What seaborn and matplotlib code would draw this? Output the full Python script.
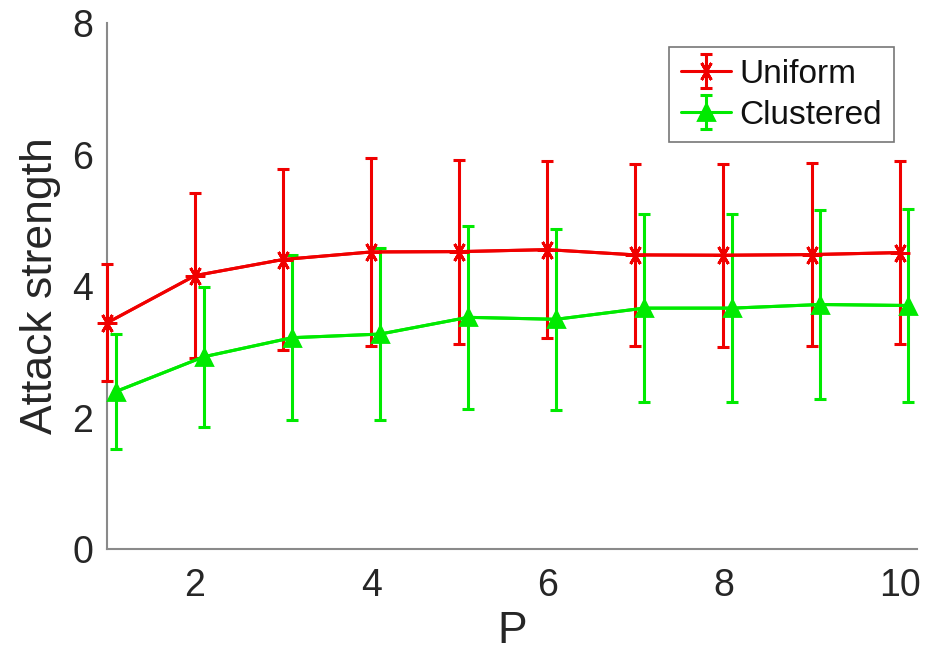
import numpy as np
import pandas as pd
import matplotlib
matplotlib.use("Agg")
import matplotlib.pyplot as plt
import seaborn as sns
from matplotlib.container import ErrorbarContainer
from matplotlib.legend_handler import HandlerErrorbar

# Attack strength versus P for two deployment models (mean and std deviation)
p_values = [1, 2, 3, 4, 5, 6, 7, 8, 9, 10]
uniform_mean = [3.44, 4.16, 4.405, 4.52, 4.525, 4.555, 4.475, 4.47, 4.48, 4.51]
uniform_std = [0.89, 1.25, 1.375, 1.43, 1.40, 1.345, 1.385, 1.39, 1.39, 1.39]
clustered_mean = [2.395, 2.925, 3.215, 3.27, 3.525, 3.495, 3.665, 3.665, 3.72, 3.705]
clustered_std = [0.875, 1.065, 1.255, 1.31, 1.395, 1.375, 1.435, 1.425, 1.44, 1.475]
clustered_shift = 0.1  # small horizontal offset so the two series' bars don't overlap

series_names = ["Uniform", "Clustered"]
colors = {"Uniform": "#f00000", "Clustered": "#00ea00"}
markers = {"Uniform": (6, 2, 90), "Clustered": "^"}
marker_sizes = {"Uniform": 14, "Clustered": 11}

df = pd.concat([
    pd.DataFrame({"P": p_values, "mean": uniform_mean, "std": uniform_std,
                  "series": "Uniform"}),
    pd.DataFrame({"P": np.array(p_values) + clustered_shift, "mean": clustered_mean,
                  "std": clustered_std, "series": "Clustered"}),
])

sns.set_theme(style="white")
plt.rcParams["font.family"] = ["Liberation Sans", "DejaVu Sans"]

fig = plt.figure(figsize=(9.4, 6.63), dpi=100)
ax = fig.add_axes([0.1138, 0.172, 0.862, 0.7929])

handles = []
for name in series_names:
    sub = df[df["series"] == name]
    sns.lineplot(data=sub, x="P", y="mean", ax=ax, color=colors[name],
                 linewidth=2.2, legend=False, zorder=3)
    ax.lines[-1].set_clip_on(False)
    eb = ax.errorbar(sub["P"], sub["mean"], yerr=sub["std"], fmt="none",
                     ecolor=colors[name], elinewidth=2.2, capsize=4.3,
                     capthick=2.2, zorder=2, clip_on=False)
    mk = ax.plot(sub["P"], sub["mean"], linestyle="-", linewidth=2.2,
                 marker=markers[name], markersize=marker_sizes[name],
                 markeredgewidth=2, color=colors[name],
                 markerfacecolor=colors[name], zorder=4, clip_on=False)[0]
    handles.append((eb, mk))

ax.set_xlim(1, 10.2)
ax.set_ylim(0, 8)
ax.set_xticks([2, 4, 6, 8, 10])
ax.set_yticks([0, 2, 4, 6, 8])

axis_grey = "#8a8a8a"
for side in ["top", "right"]:
    ax.spines[side].set_visible(False)
for side in ["left", "bottom"]:
    ax.spines[side].set_color(axis_grey)
    ax.spines[side].set_linewidth(1.5)
    ax.spines[side].set_zorder(1)

ax.tick_params(axis="both", direction="in", length=7, width=1.2,
               color=axis_grey, labelsize=27, labelcolor="#262626")
ax.tick_params(axis="x", pad=14)
ax.tick_params(axis="y", pad=10)

ax.set_xlabel("P", fontsize=32, color="#262626", labelpad=5)
ax.set_ylabel("Attack strength", fontsize=32, color="#262626", labelpad=8)

leg = ax.legend(handles, series_names, loc="upper right",
                bbox_to_anchor=(0.971, 0.955), borderaxespad=0,
                fontsize=24, frameon=True, fancybox=False,
                handlelength=1.5, handletextpad=0.25, borderpad=0.35,
                labelspacing=0.3,
                handler_map={ErrorbarContainer: HandlerErrorbar(xerr_size=0.5,
                                                                yerr_size=0.5)})
leg.get_frame().set_edgecolor("#555555")
leg.get_frame().set_linewidth(1.2)
for t in leg.get_texts():
    t.set_color("#111111")

fig.savefig("out.png", dpi=100)
